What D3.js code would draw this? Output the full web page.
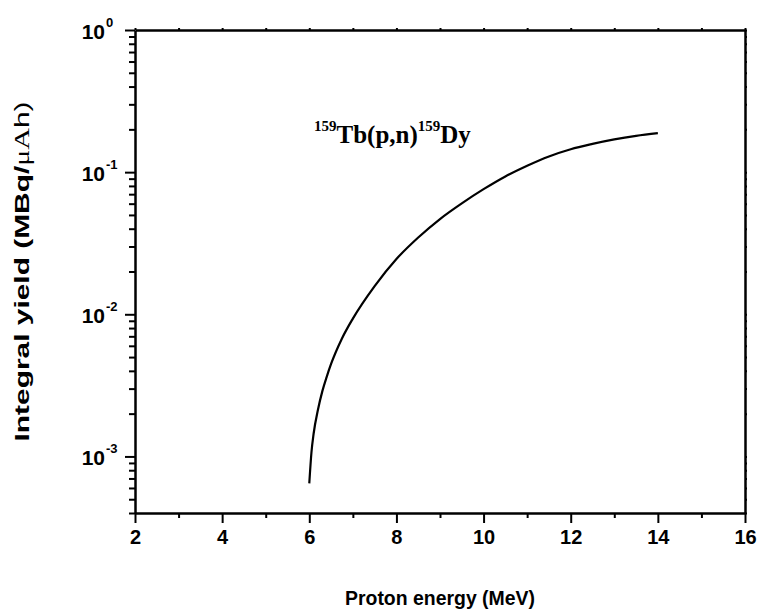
<!DOCTYPE html>
<html>
<head>
    <meta charset="utf-8">
    <title>Integral yield</title>
    <script src="https://cdn.jsdelivr.net/npm/d3@7"></script>
    <style>
        body { margin: 0; background: #fff; }
        svg { display: block; }
        .domain, .tick line { stroke: #000; }
    </style>
</head>
<body>
<script>
    // data
    var energy = [6.0, 6.05, 6.1, 6.2, 6.3, 6.4, 6.5, 6.75, 7.0, 7.5, 8.0, 8.5, 9.0, 9.5, 10.0, 10.5, 11.0, 11.5, 12.0, 12.5, 13.0, 13.5, 14.0];
    var yieldVals = [6.46e-4, 1.07e-3, 1.45e-3, 2.14e-3, 2.88e-3, 3.63e-3, 4.47e-3, 6.76e-3, 9.33e-3, 0.0158, 0.0245, 0.0347, 0.0468, 0.0603, 0.0759, 0.0933, 0.111, 0.129, 0.145, 0.158, 0.170, 0.180, 0.188];
    var xMajor = [2, 4, 6, 8, 10, 12, 14, 16];
    var xMinor = [3, 5, 7, 9, 11, 13, 15];
    var yMajor = [1e-3, 1e-2, 1e-1, 1];
    var yExp = {"0.001": "-3", "0.01": "-2", "0.1": "-1", "1": "0"};

    var W = 759, H = 613;
    var pL = 135, pR = 745, pT = 30, pB = 513;
    var sans = "'Liberation Sans', Arial, sans-serif";

    var svg = d3.select("body").append("svg").attr("width", W).attr("height", H);

    var x = d3.scaleLinear().domain([2, 16]).range([pL, pR]);
    var y = d3.scaleLog().domain([4e-4, 1]).range([pB, pT]);

    var yMinor = [];
    [1e-4, 1e-3, 1e-2, 1e-1].forEach(function (d) {
        for (var k = 2; k <= 9; k++) {
            var v = d * k;
            if (v >= 4e-4 && v < 1) yMinor.push(v);
        }
    });

    // bottom axis
    svg.append("g").attr("transform", "translate(0," + pB + ")")
        .call(d3.axisBottom(x).tickValues(xMinor).tickSize(5).tickFormat(""))
        .call(function (g) { g.select(".domain").remove(); g.selectAll("line").attr("stroke-width", 2); });
    var xa = svg.append("g").attr("transform", "translate(0," + pB + ")")
        .call(d3.axisBottom(x).tickValues(xMajor).tickSize(10).tickSizeOuter(0).tickPadding(7));
    xa.select(".domain").attr("stroke-width", 2.5);
    xa.selectAll("line").attr("stroke-width", 2);
    xa.selectAll("text")
        .style("font-family", sans).style("font-weight", "bold").style("font-size", "20px")
        .attr("fill", "#000");

    // top axis (tiny ticks)
    var xt = svg.append("g").attr("transform", "translate(0," + pT + ")")
        .call(d3.axisTop(x).tickValues(d3.range(2, 17)).tickSize(2).tickSizeOuter(0).tickFormat(""));
    xt.select(".domain").attr("stroke-width", 2.5);
    xt.selectAll("line").attr("stroke-width", 2);

    // left axis
    svg.append("g").attr("transform", "translate(" + pL + ",0)")
        .call(d3.axisLeft(y).tickValues(yMinor).tickSize(6).tickFormat(""))
        .call(function (g) { g.select(".domain").remove(); g.selectAll("line").attr("stroke-width", 2); });
    var ya = svg.append("g").attr("transform", "translate(" + pL + ",0)")
        .call(d3.axisLeft(y).tickValues(yMajor).tickSize(10).tickSizeOuter(0).tickFormat(""));
    ya.select(".domain").attr("stroke-width", 2.5);
    ya.selectAll("line").attr("stroke-width", 2);
    ya.selectAll(".tick").append("text")
        .attr("x", -30).attr("y", 8).attr("text-anchor", "end")
        .style("font-family", sans).style("font-weight", "bold").style("font-size", "21px")
        .attr("fill", "#000")
        .text("10");
    ya.selectAll(".tick").append("text")
        .attr("x", -29).attr("y", -4).attr("text-anchor", "start")
        .style("font-family", sans).style("font-weight", "bold").style("font-size", "13px")
        .attr("fill", "#000")
        .text(function (d) { return yExp[String(d)]; });

    // right axis (tiny ticks)
    var yr = svg.append("g").attr("transform", "translate(" + pR + ",0)")
        .call(d3.axisRight(y).tickValues(yMajor.concat(yMinor)).tickSize(2).tickSizeOuter(0).tickFormat(""));
    yr.select(".domain").attr("stroke-width", 2.5);
    yr.selectAll("line").attr("stroke-width", 2);

    // curve
    var pts = energy.map(function (e, i) { return [e, yieldVals[i]]; });
    var line = d3.line()
        .x(function (d) { return x(d[0]); })
        .y(function (d) { return y(d[1]); })
        .curve(d3.curveMonotoneX);
    svg.append("path").datum(pts)
        .attr("d", line)
        .attr("fill", "none")
        .attr("stroke", "#000")
        .attr("stroke-width", 2.2);

    // reaction label
    var lab = svg.append("text")
        .attr("x", 314).attr("y", 143)
        .attr("font-family", "'Liberation Serif', 'Times New Roman', serif")
        .attr("font-weight", "bold").attr("font-size", 25).attr("fill", "#000");
    lab.append("tspan").attr("font-size", 15).attr("dy", -12).text("159");
    lab.append("tspan").attr("dy", 12).text("Tb(p,n)");
    lab.append("tspan").attr("font-size", 15).attr("dy", -12).text("159");
    lab.append("tspan").attr("dy", 12).text("Dy");

    // axis titles
    svg.append("text")
        .attr("x", (pL + pR) / 2).attr("y", 605)
        .attr("text-anchor", "middle")
        .attr("textLength", 190)
        .attr("lengthAdjust", "spacingAndGlyphs")
        .attr("font-family", sans)
        .attr("font-weight", "bold").attr("font-size", 21)
        .text("Proton energy (MeV)");

    var yt = svg.append("text")
        .attr("transform", "translate(29," + (pT + pB) / 2 + ") rotate(-90)")
        .attr("text-anchor", "middle")
        .attr("textLength", 340)
        .attr("lengthAdjust", "spacingAndGlyphs")
        .attr("font-family", sans)
        .attr("font-weight", "bold").attr("font-size", 21);
    yt.append("tspan").text("Integral yield (MBq/");
    yt.append("tspan").attr("font-family", "'Liberation Serif', serif").attr("font-weight", "normal").text("μA");
    yt.append("tspan").attr("font-weight", "normal").text("h)");
</script>
</body>
</html>
